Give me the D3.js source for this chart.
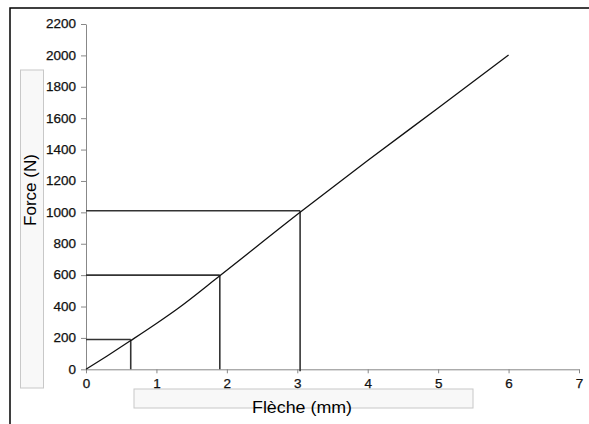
<!DOCTYPE html>
<html><head><meta charset="utf-8">
<script src="https://cdn.jsdelivr.net/npm/d3@7"></script>
<style>html,body{margin:0;padding:0;background:#fff;overflow:hidden}</style>
</head><body>
<svg id="c" width="589" height="424"></svg>
<script>
const flecheMm = [0, 0.3, 0.635, 1.0, 1.3, 1.9, 3.04, 4.0, 5.0, 6.0];
const forceN   = [0, 85, 183, 292, 386, 596, 1000, 1330, 1665, 2003];
const refFleche = [0.635, 1.9, 3.04];
const refForce  = [190, 600, 1010];
const xTicks = [0, 1, 2, 3, 4, 5, 6, 7];
const yTicks = [0, 200, 400, 600, 800, 1000, 1200, 1400, 1600, 1800, 2000, 2200];
const xTitle = "Flèche (mm)";
const yTitle = "Force (N)";

const svg = d3.select("#c");
const font = "'Liberation Sans', Arial, sans-serif";

svg.append("rect").attr("x",10).attr("y",8).attr("width",620).attr("height",440)
  .attr("fill","#fff").attr("stroke","#000").attr("stroke-width",1.5);

const x = d3.scaleLinear().domain([0,7]).range([86,579]);
const y = d3.scaleLinear().domain([0,2200]).range([369.3,24]);

// title boxes
svg.append("rect").attr("x",20.5).attr("y",70).attr("width",23).attr("height",318)
  .attr("fill","#f8f8f8").attr("stroke","#c8c8c8");
svg.append("rect").attr("x",134).attr("y",389).attr("width",339).attr("height",19)
  .attr("fill","#f8f8f8").attr("stroke","#c8c8c8");

// axes
const ya = svg.append("g").attr("transform","translate(86,0)")
  .call(d3.axisLeft(y).tickValues(yTicks).tickSize(5).tickSizeOuter(0).tickPadding(5).tickFormat(d3.format("d")));
const xa = svg.append("g").attr("transform","translate(0,369.3)")
  .call(d3.axisBottom(x).tickValues(xTicks).tickSize(4).tickSizeOuter(0).tickPadding(6).tickFormat(d3.format("d")));
[ya, xa].forEach(g => {
  g.select(".domain").attr("stroke","#888");
  g.selectAll(".tick line").attr("stroke","#888");
  g.selectAll(".tick text").attr("fill","#111").style("font-family",font).style("font-size","12px")
    .attr("stroke","#111").attr("stroke-width",0.25)
    .each(function(){ const t=d3.select(this); t.attr("textLength", t.text().length*7.5).attr("lengthAdjust","spacingAndGlyphs"); });
});

// reference lines
const refG = svg.append("g").attr("stroke","#333").attr("stroke-width",1.6).attr("fill","none");
refFleche.forEach((fx,i) => {
  refG.append("line").attr("x1",x(0)).attr("x2",x(fx)).attr("y1",y(refForce[i])).attr("y2",y(refForce[i]));
  refG.append("line").attr("x1",x(fx)).attr("x2",x(fx)).attr("y1",y(refForce[i])).attr("y2",y(0)+ (i===2?2:0));
});

// curve
const pts = flecheMm.map((v,i)=>[v, forceN[i]]);
svg.append("path").datum(pts)
  .attr("d", d3.line().x(d=>x(d[0])).y(d=>y(d[1])).curve(d3.curveMonotoneX))
  .attr("fill","none").attr("stroke","#111").attr("stroke-width",1.3);

// titles
svg.append("text").attr("x",302).attr("y",413).attr("text-anchor","middle")
  .style("font-family",font).style("font-size","16px").attr("fill","#000")
  .attr("textLength",100).attr("lengthAdjust","spacingAndGlyphs").text(xTitle);
svg.append("text").attr("transform","translate(36,190) rotate(-90)").attr("text-anchor","middle")
  .style("font-family",font).style("font-size","17px").attr("fill","#000").text(yTitle);
</script>
</body></html>
